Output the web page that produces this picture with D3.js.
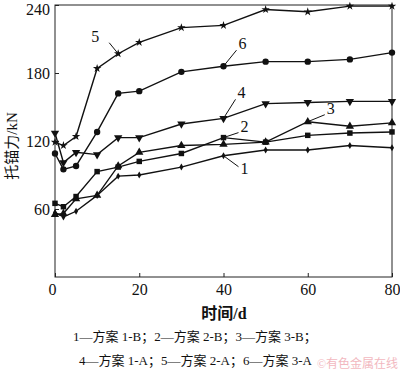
<!DOCTYPE html>
<html>
<head>
<meta charset="utf-8">
<script src="https://cdn.jsdelivr.net/npm/d3@7"></script>
<style>
body { margin: 0; background: #fff; }
svg text { font-family: "Liberation Serif", "Noto Sans CJK SC", serif; fill: #111; }
</style>
</head>
<body>
<div id="chart"></div>
<script>
(function(d3) {
'use strict';

var days = [0, 2, 5, 10, 15, 20, 30, 40, 50, 60, 70, 80];
var s1 = [57, 53, 58, 72, 89, 90, 97, 107, 112, 112, 116, 114];
var s2 = [65, 62, 71, 93, 97, 102, 109, 123, 119, 125, 127, 128];
var s3 = [55, 56, 69, 72, 98, 110, 116, 117, 119, 137, 133, 136];
var s4 = [127, 101, 110, 108, 123, 123, 135, 140, 153, 154, 155, 155];
var s5 = [119, 116, 124, 184, 197, 207, 220, 222, 236, 234, 239, 239];
var s6 = [109, 95, 98, 128, 162, 164, 181, 186, 190, 190, 192, 198];
var seriesNames = ['1', '2', '3', '4', '5', '6'];
var xTicks = [0, 20, 40, 60, 80];
var yTicks = [60, 120, 180, 240];
var legendRows = ['1\u2014方案 1-B；2\u2014方案 2-B；3\u2014方案 3-B；',
                  '4\u2014方案 1-A；5\u2014方案 2-A；6\u2014方案 3-A'];

var allSeries = [s1, s2, s3, s4, s5, s6];
var symbols = [d3.symbolDiamond, d3.symbolSquare, d3.symbolTriangle,
               d3.symbolTriangle, d3.symbolStar, d3.symbolCircle];
var symSize = [14, 30, 30, 30, 22, 32];

// where each curve number sits and which point its leader hits
var labels = [
  { s: 0, i: 7, dx: 17, dy: 13 },
  { s: 1, i: 7, dx: 17, dy: -6 },
  { s: 2, i: 9, dx: 19, dy: -8 },
  { s: 3, i: 7, dx: 14, dy: -20 },
  { s: 4, i: 4, dx: -15, dy: -12 },
  { s: 5, i: 7, dx: 15, dy: -17 }
];

var W = 400, H = 371;
var left = 55, right = 392, top = 5, bottom = 277;

var x = d3.scaleLinear().domain([0, 80]).range([left, right]);
var y = d3.scaleLinear().domain([0, 240]).range([bottom, top]);

var svg = d3.select('#chart').append('svg')
  .attr('width', W).attr('height', H);

svg.append('rect')
  .attr('x', left).attr('y', top)
  .attr('width', right - left).attr('height', bottom - top)
  .attr('fill', 'none').attr('stroke', '#222').attr('stroke-width', 1);

var xAxis = d3.axisBottom(x).tickValues(xTicks).tickSize(-4).tickPadding(7).tickSizeOuter(0);
var gx = svg.append('g').attr('transform', 'translate(0,' + bottom + ')').call(xAxis);
gx.select('.domain').remove();
gx.selectAll('line').attr('stroke', '#222');
gx.selectAll('text').attr('font-size', 16).attr('font-family', '"Liberation Serif", serif').attr('fill', '#111');
gx.selectAll('text').filter(function(d) { return d === 0; }).attr('dx', -3);

var yAxis = d3.axisLeft(y).tickValues(yTicks).tickSize(-4).tickPadding(5).tickSizeOuter(0);
var gy = svg.append('g').attr('transform', 'translate(' + left + ',0)').call(yAxis);
gy.select('.domain').remove();
gy.selectAll('line').attr('stroke', '#222');
gy.selectAll('text').attr('font-size', 16).attr('font-family', '"Liberation Serif", serif').attr('fill', '#111');
// keep the top label inside the page
gy.selectAll('text').filter(function(d) { return d === 240; }).attr('dy', '0.62em');

var line = d3.line()
  .x(function(d, i) { return x(days[i]); })
  .y(function(d) { return y(d); });

allSeries.forEach(function(vals, k) {
  svg.append('path')
    .datum(vals)
    .attr('d', line)
    .attr('fill', 'none')
    .attr('stroke', '#111')
    .attr('stroke-width', 1.4);

  svg.append('g').selectAll('path')
    .data(vals)
    .enter().append('path')
    .attr('d', d3.symbol().type(symbols[k]).size(symSize[k]))
    .attr('transform', function(d, i) {
      var rot = k === 3 ? ' rotate(180)' : '';
      return 'translate(' + x(days[i]) + ',' + y(d) + ')' + rot;
    })
    .attr('fill', '#111');
});

labels.forEach(function(l) {
  var px = x(days[l.i]), py = y(allSeries[l.s][l.i]);
  var tx = px + l.dx, ty = py + l.dy;
  svg.append('line')
    .attr('x1', px).attr('y1', py)
    .attr('x2', tx - (l.dx > 0 ? 2 : -6)).attr('y2', ty + (l.dy > 0 ? -2 : 1))
    .attr('stroke', '#111').attr('stroke-width', 1);
  svg.append('text')
    .attr('x', l.dx > 0 ? tx : tx - 4)
    .attr('y', ty + (l.dy > 0 ? 5 : 0))
    .attr('text-anchor', l.dx > 0 ? 'start' : 'end')
    .attr('font-size', 16)
    .text(seriesNames[l.s]);
});

svg.append('text')
  .attr('transform', 'translate(17,' + ((top + bottom) / 2 + 5) + ') rotate(-90)')
  .attr('text-anchor', 'middle')
  .attr('font-size', 15)
  .text('托锚力/kN');

svg.append('text')
  .attr('x', 224).attr('y', 319)
  .attr('text-anchor', 'middle')
  .attr('font-size', 16)
  .attr('font-weight', 'bold')
  .text('时间/d');

svg.selectAll('.legend')
  .data(legendRows)
  .enter().append('text')
  .attr('class', 'legend')
  .attr('x', function(d, i) { return i === 0 ? 73 : 79; })
  .attr('y', function(d, i) { return 341 + i * 24; })
  .attr('font-size', 13)
  .text(function(d) { return d; });

svg.append('text')
  .attr('x', 398).attr('y', 368)
  .attr('text-anchor', 'end')
  .attr('font-size', 12)
  .style('fill', '#f2b8c0')
  .text('©有色金属在线');

})(window.d3);
</script>
</body>
</html>
